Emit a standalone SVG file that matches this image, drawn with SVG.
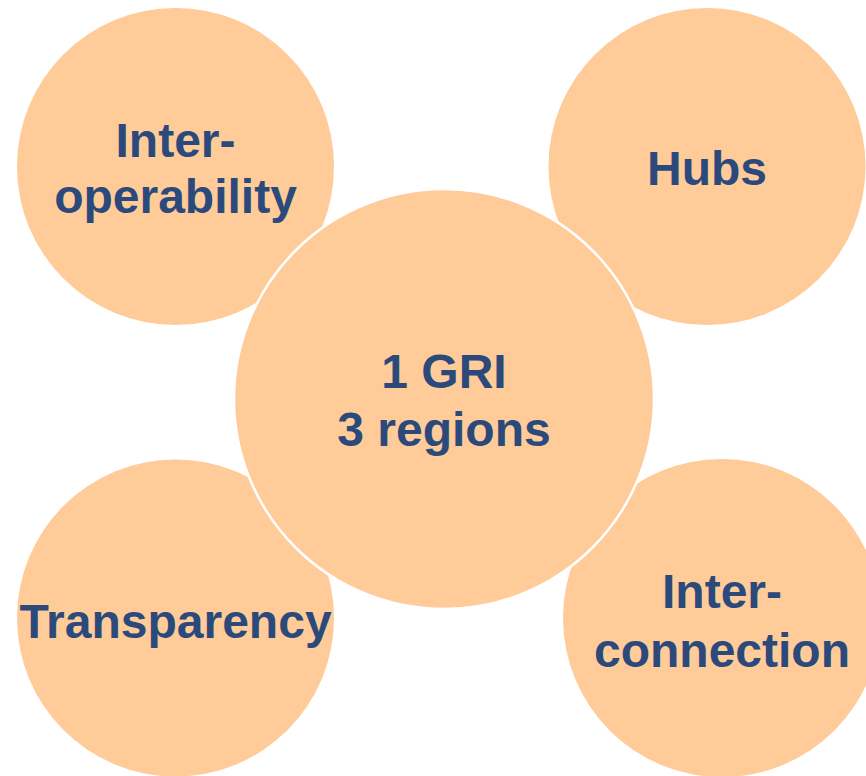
<svg xmlns="http://www.w3.org/2000/svg" width="866" height="776" viewBox="0 0 866 776">
  <style>
    .bubble { fill: #FECB99; }
    .hub { fill: #FECB99; stroke: #FFFFFF; stroke-width: 2.5; }
    .label { font-family: "Liberation Sans", Arial, sans-serif; font-weight: bold; font-size: 48px; fill: #2B4A7B; text-anchor: middle; }
  </style>
  <rect width="866" height="776" fill="#FFFFFF"/>

  <g id="interoperability">
    <circle class="bubble" cx="175.5" cy="166.5" r="158.5"/>
    <text class="label" x="175.5" y="157">Inter-</text>
    <text class="label" x="175.5" y="213">operability</text>
  </g>

  <g id="hubs">
    <circle class="bubble" cx="707" cy="166.5" r="158.5"/>
    <text class="label" x="707" y="185">Hubs</text>
  </g>

  <g id="transparency">
    <circle class="bubble" cx="175.5" cy="618" r="158.5"/>
    <text class="label" x="175.5" y="638">Transparency</text>
  </g>

  <g id="interconnection">
    <circle class="bubble" cx="722" cy="618" r="159"/>
    <text class="label" x="722" y="608">Inter-</text>
    <text class="label" x="722" y="667">connection</text>
  </g>

  <g id="center">
    <circle class="hub" cx="444" cy="399" r="210"/>
    <text class="label" x="444" y="388">1 GRI</text>
    <text class="label" x="444" y="446">3 regions</text>
  </g>

  <g id="connectors"></g>
</svg>
